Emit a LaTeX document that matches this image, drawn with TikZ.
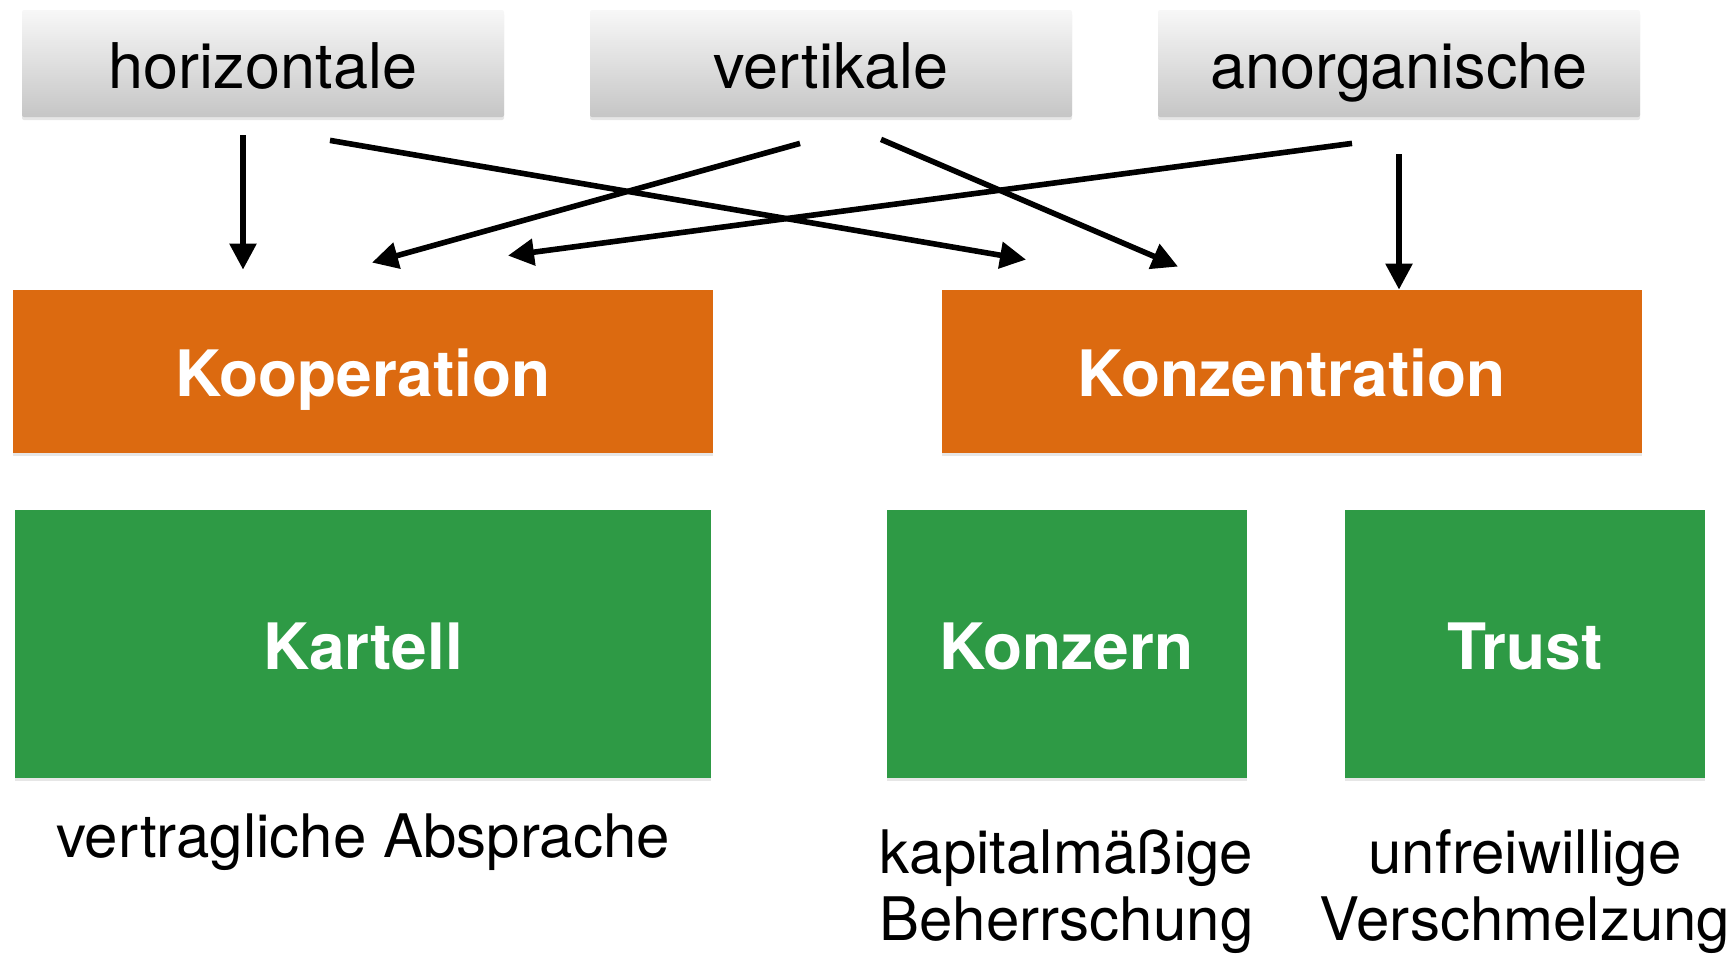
\documentclass[tikz,border=0pt]{standalone}
\usepackage{fontspec}
\setmainfont{TeX Gyre Heros}
\usetikzlibrary{arrows.meta}
\usetikzlibrary{calc}
\usetikzlibrary{shadows}
\definecolor{kooorange}{HTML}{DC6A10}
\definecolor{koogreen}{HTML}{2E9A45}

\begin{document}
\begin{tikzpicture}[x=0.5pt,y=-0.5pt,
    kindbox/.style={minimum width=241pt,minimum height=53.5pt,inner sep=0pt,
      rounded corners=1pt,top color=gray!6,bottom color=gray!45,
      drop shadow={shadow xshift=0pt,shadow yshift=-1.5pt,opacity=0.2},
      font=\fontsize{31.5}{36}\selectfont,text height=25pt,text depth=0pt},
    formbox/.style={minimum width=350pt,minimum height=81.5pt,inner sep=0pt,
      fill=kooorange,text=white,
      drop shadow={shadow xshift=0pt,shadow yshift=-1.5pt,opacity=0.2},
      font=\fontsize{32}{36}\selectfont\bfseries,text height=25pt,text depth=0pt},
    typebox/.style={minimum height=134pt,inner sep=0pt,
      fill=koogreen,text=white,
      drop shadow={shadow xshift=0pt,shadow yshift=-1.5pt,opacity=0.2},
      font=\fontsize{32}{36}\selectfont\bfseries,text height=25pt,text depth=0pt},
    notetext/.style={font=\fontsize{30}{33.5}\selectfont,align=center,anchor=base},
    link/.style={line width=2.8pt,-{Triangle[length=13pt,width=13pt]}}]
  \useasboundingbox (0,0) rectangle (1727,953);

  % kinds
  \node[kindbox] (hor) at (263,63.5) {horizontale};
  \node[kindbox] (vert) at (831,63.5) {vertikale};
  \node[kindbox] (anorg) at (1399,63.5) {anorganische};

  % forms
  \node[formbox] (koop) at (363,371.5) {Kooperation};
  \node[formbox] (konz) at (1291.5,371.5) {Konzentration};

  % types
  \node[typebox,minimum width=348pt] (kartell) at (363,644) {Kartell};
  \node[typebox,minimum width=180pt] (konzern) at (1066.5,644) {Konzern};
  \node[typebox,minimum width=180pt] (trust) at (1525,644) {Trust};

  % base of the last line
  \node[notetext] (kartellnote) at (363,857) {vertragliche Absprache};
  \node[notetext] (konzernnote) at (1066.5,940) {kapitalmäßige\\Beherrschung};
  \node[notetext] (trustnote) at (1525,940) {unfreiwillige\\Verschmelzung};

  \draw[link] ($(hor.south)+(-20,18)$) -- ($(koop.north)+(-120,-20)$);
  \draw[link] ($(hor.south)+(67,23)$) -- ($(konz.north)+(-265.5,-30)$);
  \draw[link] ($(vert.south)+(-31,26)$) -- ($(koop.north)+(9,-27)$);
  \draw[link] ($(vert.south)+(50,22)$) -- ($(konz.north)+(-113.5,-23)$);
  \draw[link] ($(anorg.south)+(-47,26)$) -- ($(koop.north)+(145,-34)$);
  \draw[link] ($(anorg.south)+(0,37)$) -- ($(konz.north)+(107.5,0)$);
\end{tikzpicture}
\end{document}
